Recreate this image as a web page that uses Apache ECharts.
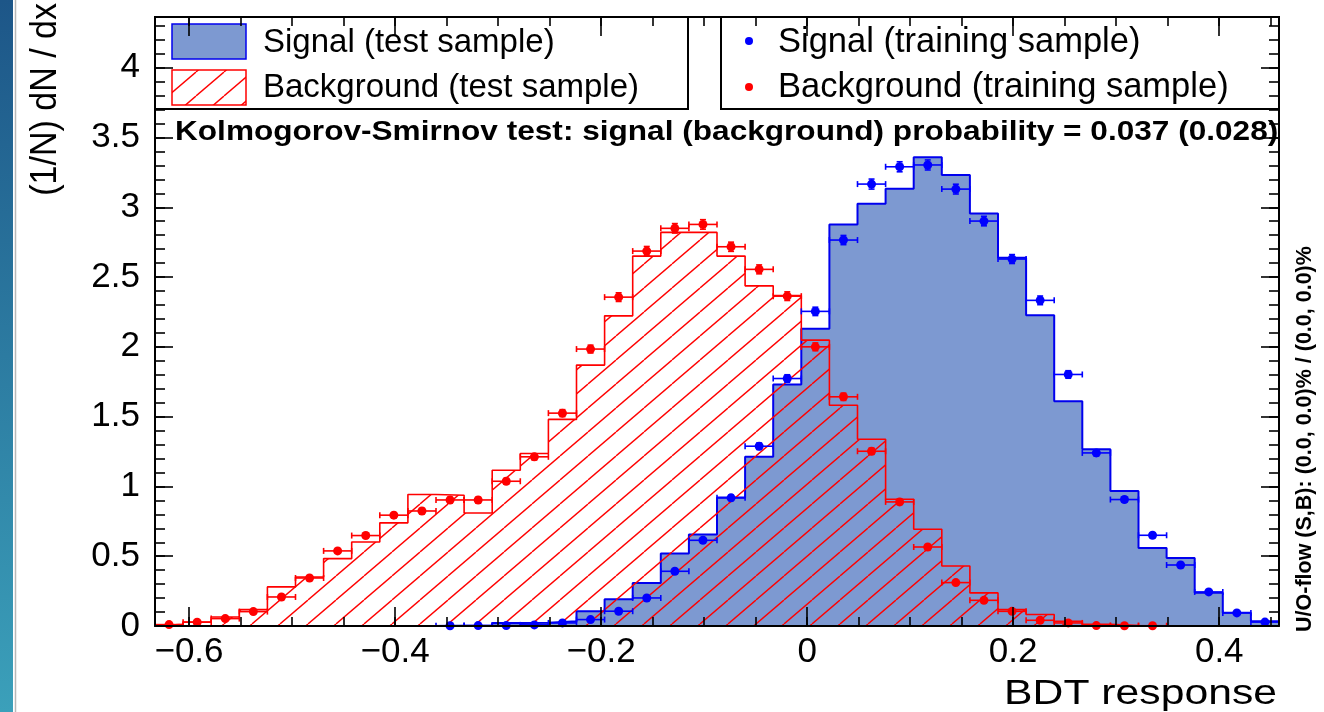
<!DOCTYPE html>
<html>
<head>
<meta charset="utf-8">
<title>BDT response</title>
<script src="https://cdn.jsdelivr.net/npm/echarts@6/dist/echarts.min.js"></script>
<style>
  html, body { margin: 0; padding: 0; background: #ffffff; }
  #chart { width: 1324px; height: 712px; }
</style>
</head>
<body>
<div id="chart"></div>
<script>
// Histogram binning of the BDT output
const binLow = -0.633;
const binHigh = 0.458;
const nBins = 40;

// Test samples: normalised content of every bin, (1/N) dN/dx
const signalTest = [
  0, 0, 0, 0, 0, 0, 0, 0, 0, 0,
  0.002, 0.004, 0.022, 0.024, 0.034, 0.105, 0.191, 0.308, 0.519, 0.655,
  0.920, 1.212, 1.731, 2.130, 2.877, 3.025, 3.133, 3.358, 3.231, 2.956,
  2.638, 2.227, 1.611, 1.267, 0.968, 0.559, 0.487, 0.239, 0.095, 0.034
];
const backgroundTest = [
  0.012, 0.029, 0.065, 0.117, 0.280, 0.351, 0.483, 0.602, 0.739, 0.942,
  0.937, 0.810, 1.116, 1.236, 1.480, 1.869, 2.222, 2.650, 2.820, 2.820,
  2.650, 2.437, 2.368, 2.048, 1.582, 1.338, 0.908, 0.693, 0.430, 0.237,
  0.117, 0.082, 0.034, 0.012, 0.003, 0, 0, 0, 0, 0
];

// Training samples: first filled bin, contents and vertical errors
const signalTrainFirstBin = 10;
const signalTrain = [
  0.002, 0.003, 0.003, 0.008, 0.022, 0.046, 0.106, 0.201, 0.392, 0.614,
  0.918, 1.288, 1.773, 2.254, 2.765, 3.166, 3.290, 3.303, 3.130, 2.901,
  2.629, 2.333, 1.802, 1.240, 0.906, 0.650, 0.437, 0.244, 0.094, 0.028
];
const signalTrainErr = [
  0.001, 0.001, 0.001, 0.002, 0.003, 0.004, 0.007, 0.009, 0.013, 0.016,
  0.019, 0.023, 0.027, 0.030, 0.033, 0.036, 0.036, 0.036, 0.035, 0.034,
  0.032, 0.031, 0.027, 0.022, 0.019, 0.016, 0.013, 0.010, 0.006, 0.003
];
const backgroundTrainFirstBin = 0;
const backgroundTrain = [
  0.010, 0.027, 0.053, 0.103, 0.208, 0.344, 0.538, 0.648, 0.794, 0.824,
  0.903, 0.903, 1.037, 1.212, 1.525, 1.984, 2.356, 2.686, 2.849, 2.877,
  2.717, 2.555, 2.363, 2.000, 1.642, 1.252, 0.889, 0.566, 0.311, 0.184,
  0.105, 0.041, 0.022, 0.003, 0.002, 0.002
];
const backgroundTrainErr = [
  0.002, 0.003, 0.005, 0.006, 0.009, 0.012, 0.015, 0.016, 0.018, 0.018,
  0.019, 0.019, 0.020, 0.022, 0.025, 0.028, 0.031, 0.033, 0.034, 0.034,
  0.033, 0.032, 0.031, 0.028, 0.026, 0.022, 0.019, 0.015, 0.011, 0.009,
  0.006, 0.004, 0.003, 0.001, 0.001, 0.001
];

// Axis ticks
const xTickLabels = [-0.6, -0.4, -0.2, 0, 0.2, 0.4];
const yTickLabels = [0, 0.5, 1, 1.5, 2, 2.5, 3, 3.5, 4];
const yMax = 4.363;

const xMinorTicks = [];
for (let i = -12; i <= 9; i++) xMinorTicks.push(+(i * 0.05).toFixed(2));
const yMinorTicks = [];
for (let i = 0; i <= 43; i++) yMinorTicks.push(+(i * 0.1).toFixed(1));

// Texts
const legendTest = ['Signal (test sample)', 'Background (test sample)'];
const legendTrain = ['Signal (training sample)', 'Background (training sample)'];
const ksText = 'Kolmogorov-Smirnov test: signal (background) probability = 0.037 (0.028)';
const flowText = 'U/O-flow (S,B): (0.0, 0.0)% / (0.0, 0.0)%';
const xTitle = 'BDT response';
const yTitle = '(1/N) dN / dx';

const SIG_FILL = '#7d99d1';
const SIG_LINE = '#0000ee';
const SIG_MARK = '#0000ff';
const BKG_LINE = '#ff0000';
const FONT = "'Liberation Sans', Arial, Helvetica, sans-serif";

const binWidth = (binHigh - binLow) / nBins;
const edge = k => binLow + k * binWidth;

// Step outline of a histogram, closed down to zero at both ends
function histSteps(values) {
  const pts = [[edge(0), 0]];
  values.forEach((v, k) => pts.push([edge(k), v]));
  pts.push([edge(nBins), values[nBins - 1]]);
  pts.push([edge(nBins), 0]);
  return pts;
}

// Points with errors: [centre, value, low edge, high edge, error]
function trainPoints(first, values, errs) {
  return values.map((v, i) => {
    const k = first + i;
    return [edge(k) + binWidth / 2, v, edge(k), edge(k + 1), errs[i]];
  });
}

// Red diagonal hatching used for the background fill
function hatchPattern() {
  const w = 28, h = 24;
  const c = document.createElement('canvas');
  c.width = w; c.height = h;
  const g = c.getContext('2d');
  g.strokeStyle = BKG_LINE;
  g.lineWidth = 1.4;
  [-w, 0, w].forEach(dx => {
    g.beginPath();
    g.moveTo(dx, h);
    g.lineTo(dx + w, 0);
    g.stroke();
  });
  return { image: c, repeat: 'repeat' };
}
const hatch = hatchPattern();

function errorBars(color) {
  return function (params, api) {
    const y = api.value(1), e = api.value(4);
    const a = api.coord([api.value(2), y]);
    const b = api.coord([api.value(3), y]);
    const t = api.coord([api.value(0), y + e]);
    const d = api.coord([api.value(0), Math.max(0, y - e)]);
    const cap = 3;
    const style = { stroke: color, lineWidth: 1.6 };
    const seg = (x1, y1, x2, y2) => ({ type: 'line', shape: { x1, y1, x2, y2 }, style });
    return {
      type: 'group',
      children: [
        seg(a[0], a[1], b[0], b[1]),
        seg(a[0], a[1] - cap, a[0], a[1] + cap),
        seg(b[0], b[1] - cap, b[0], b[1] + cap),
        seg(t[0], t[1], d[0], d[1]),
        seg(t[0] - cap, t[1], t[0] + cap, t[1]),
        seg(d[0] - cap, d[1], d[0] + cap, d[1])
      ]
    };
  };
}

const tickStyle = { color: '#000', width: 1.6 };
const fmtX = v => (v < 0 ? '\u2212' : '') + String(Math.abs(v));

function xAxisDef(position, major, withLabels) {
  return {
    type: 'value', min: binLow, max: binHigh, position, z: 6,
    axisLine: { show: major, onZero: false, lineStyle: { color: '#000', width: 2 } },
    splitLine: { show: false },
    axisTick: {
      show: true, inside: true, length: major ? 19 : 9,
      customValues: major ? xTickLabels : xMinorTicks, lineStyle: tickStyle
    },
    axisLabel: withLabels ? {
      show: true, customValues: xTickLabels, formatter: fmtX, margin: 9,
      fontSize: 35, fontFamily: FONT, color: '#000'
    } : { show: false }
  };
}
function yAxisDef(position, major, withLabels) {
  return {
    type: 'value', min: 0, max: yMax, position, z: 6,
    axisLine: { show: major, onZero: false, lineStyle: { color: '#000', width: 2 } },
    splitLine: { show: false },
    axisTick: {
      show: true, inside: true, length: major ? 18 : 10,
      customValues: major ? yTickLabels : yMinorTicks, lineStyle: tickStyle
    },
    axisLabel: withLabels ? {
      show: true, customValues: yTickLabels, formatter: v => String(v), margin: 15,
      fontSize: 35, fontFamily: FONT, color: '#000'
    } : { show: false }
  };
}

const chart = echarts.init(document.getElementById('chart'), null, { renderer: 'canvas' });

const textStyle = (text, font, extra) => Object.assign({
  text, font, fill: '#000', verticalAlign: 'middle', textVerticalAlign: 'middle'
}, extra || {});

const graphics = [
  // slide edge on the left
  {
    type: 'rect', shape: { x: 0, y: 0, width: 13, height: 712 }, z: 0,
    style: { fill: { type: 'linear', x: 0, y: 0, x2: 0, y2: 1,
      colorStops: [{ offset: 0, color: '#1d5688' }, { offset: 1, color: '#3ba0ba' }] } }
  },
  { type: 'line', shape: { x1: 15.5, y1: 0, x2: 15.5, y2: 712 }, z: 0, style: { stroke: '#b8b8b8', lineWidth: 1.5 } },

  // legend boxes
  { type: 'rect', shape: { x: 155, y: 17, width: 533, height: 92 }, z: 1, style: { fill: '#fff', stroke: '#000', lineWidth: 2 } },
  { type: 'rect', shape: { x: 721, y: 17, width: 558, height: 92 }, z: 1, style: { fill: '#fff', stroke: '#000', lineWidth: 2 } },
  { type: 'rect', shape: { x: 172, y: 24, width: 74, height: 35 }, z: 2, style: { fill: SIG_FILL, stroke: SIG_LINE, lineWidth: 1.5 } },
  { type: 'rect', shape: { x: 172, y: 70, width: 74, height: 35 }, z: 2, style: { fill: hatch, stroke: BKG_LINE, lineWidth: 1.5 } },
  { type: 'text', x: 263, y: 43, z: 3, style: textStyle(legendTest[0], '33px ' + FONT) },
  { type: 'text', x: 263, y: 88, z: 3, style: textStyle(legendTest[1], '33px ' + FONT) },
  { type: 'circle', shape: { cx: 749, cy: 41, r: 4 }, z: 3, style: { fill: SIG_MARK } },
  { type: 'circle', shape: { cx: 749, cy: 87, r: 4 }, z: 3, style: { fill: BKG_LINE } },
  { type: 'text', x: 778, y: 42, z: 3, style: textStyle(legendTrain[0], '34.5px ' + FONT) },
  { type: 'text', x: 778, y: 87, z: 3, style: textStyle(legendTrain[1], '34.5px ' + FONT) },

  // Kolmogorov-Smirnov result
  { type: 'text', x: 175, y: 133, scaleX: 1.17, z: 3, style: textStyle(ksText, 'bold 27px ' + FONT) },

  // axis titles and overflow note
  { type: 'text', x: 1277, y: 694, z: 3, scaleX: 1.22, style: textStyle(xTitle, '35px ' + FONT, { align: 'right', textAlign: 'right' }) },
  { type: 'text', x: 46, y: 3, rotation: Math.PI / 2, scaleY: 1.1, z: 3, style: textStyle(yTitle, '34px ' + FONT, { align: 'right', textAlign: 'right' }) },
  { type: 'text', x: 1305, y: 632, rotation: Math.PI / 2, z: 3, style: textStyle(flowText, 'bold 21.5px ' + FONT, { align: 'left', textAlign: 'left' }) }
];

chart.setOption({
  animation: false,
  backgroundColor: '#ffffff',
  grid: { left: 155, right: 45, top: 17, bottom: 86, show: false },
  xAxis: [
    xAxisDef('bottom', true, true),
    xAxisDef('bottom', false, false),
    xAxisDef('top', true, false),
    xAxisDef('top', false, false)
  ],
  yAxis: [
    yAxisDef('left', true, true),
    yAxisDef('left', false, false),
    yAxisDef('right', true, false),
    yAxisDef('right', false, false)
  ],
  graphic: graphics,
  series: [
    {
      name: 'Signal (test sample)', type: 'line', step: 'end', z: 2,
      data: histSteps(signalTest), showSymbol: false, symbol: 'none',
      lineStyle: { color: SIG_LINE, width: 2 },
      areaStyle: { color: SIG_FILL, opacity: 1 }
    },
    {
      name: 'Background (test sample)', type: 'line', step: 'end', z: 3,
      data: histSteps(backgroundTest), showSymbol: false, symbol: 'none',
      lineStyle: { color: BKG_LINE, width: 1.6 },
      areaStyle: { color: hatch, opacity: 1 }
    },
    {
      name: 'Signal (training sample) errors', type: 'custom', z: 4, clip: true,
      data: trainPoints(signalTrainFirstBin, signalTrain, signalTrainErr),
      renderItem: errorBars(SIG_MARK)
    },
    {
      name: 'Signal (training sample)', type: 'scatter', z: 4, symbol: 'circle', symbolSize: 9,
      data: trainPoints(signalTrainFirstBin, signalTrain, signalTrainErr).map(p => [p[0], p[1]]),
      itemStyle: { color: SIG_MARK, opacity: 1 }
    },
    {
      name: 'Background (training sample) errors', type: 'custom', z: 5, clip: true,
      data: trainPoints(backgroundTrainFirstBin, backgroundTrain, backgroundTrainErr),
      renderItem: errorBars(BKG_LINE)
    },
    {
      name: 'Background (training sample)', type: 'scatter', z: 5, symbol: 'circle', symbolSize: 9,
      data: trainPoints(backgroundTrainFirstBin, backgroundTrain, backgroundTrainErr).map(p => [p[0], p[1]]),
      itemStyle: { color: BKG_LINE, opacity: 1 }
    }
  ]
});
</script>
</body>
</html>
